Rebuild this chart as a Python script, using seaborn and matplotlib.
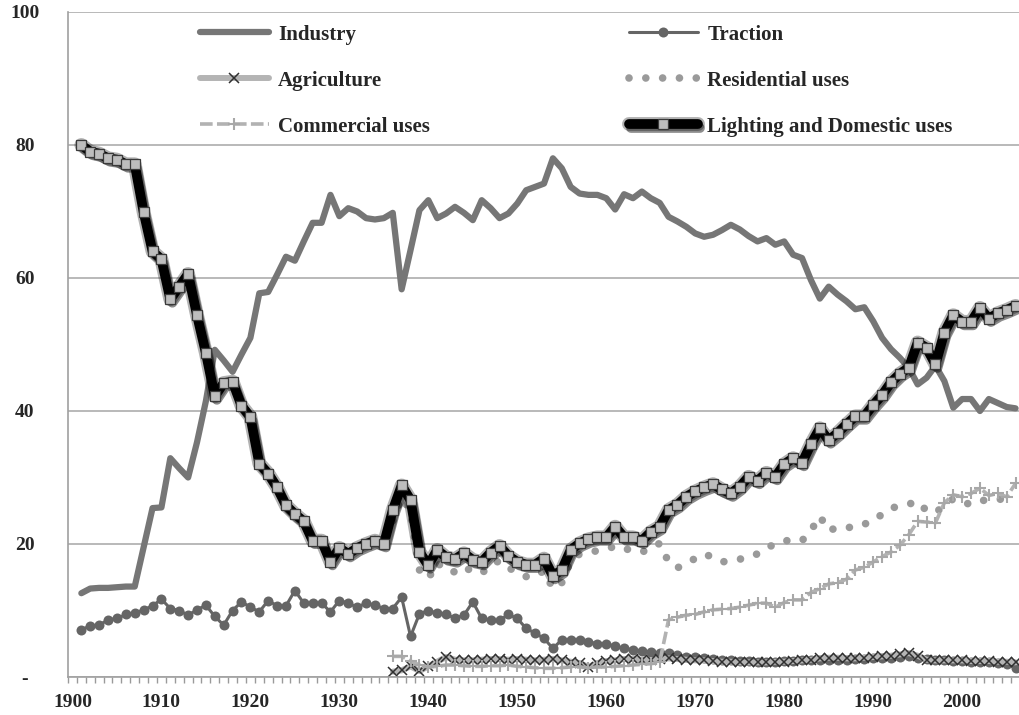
import numpy as np
import pandas as pd
import matplotlib
matplotlib.use("Agg")
import matplotlib.pyplot as plt
import matplotlib.patheffects as pe
from matplotlib.font_manager import FontProperties
from matplotlib.legend_handler import HandlerTuple
import seaborn as sns

# Data, share of electricity use in %
YEARS = list(range(1901, 2007))
YEARS_LATE = list(range(1936, 2007))

INDUSTRY = [
    12.6, 13.3, 13.4, 13.4, 13.5, 13.6, 13.6, 19.5, 25.4, 25.5,
    32.9, 31.4, 30.0, 35.3, 41.5, 49.2, 47.6, 45.9, 48.5, 51.0,
    57.7, 57.9, 60.5, 63.2, 62.6, 65.5, 68.3, 68.3, 72.5, 69.3,
    70.5, 70.0, 69.0, 68.8, 69.0, 69.8, 58.3, 64.2, 70.2, 71.7,
    69.0, 69.7, 70.7, 69.8, 68.7, 71.7, 70.5, 69.0, 69.7, 71.2,
    73.2, 73.7, 74.2, 78.0, 76.5, 73.7, 72.7, 72.5, 72.5, 72.0,
    70.3, 72.6, 72.0, 73.0, 72.0, 71.3, 69.2, 68.5, 67.7, 66.7,
    66.2, 66.5, 67.2, 68.0, 67.3, 66.3, 65.5, 66.0, 65.0, 65.5,
    63.5, 63.0, 59.7, 56.9, 58.7, 57.5, 56.5, 55.3, 55.6, 53.5,
    51.0, 49.3, 48.0, 46.5, 44.0, 45.0, 46.8, 44.5, 40.5, 41.8,
    41.8, 40.0, 41.8, 41.2, 40.6, 40.4,
]
TRACTION = [
    7.1, 7.7, 7.8, 8.6, 8.8, 9.4, 9.6, 10.1, 10.7, 11.7,
    10.3, 10.0, 9.3, 10.1, 10.8, 9.1, 7.8, 10.0, 11.3, 10.5,
    9.8, 11.5, 10.7, 10.7, 13.0, 11.1, 11.1, 11.1, 9.8, 11.5,
    11.1, 10.5, 11.1, 10.8, 10.3, 10.3, 12.0, 6.1, 9.5, 10.0,
    9.6, 9.5, 8.8, 9.3, 11.3, 8.8, 8.5, 8.5, 9.4, 8.8,
    7.3, 6.6, 5.8, 4.3, 5.6, 5.6, 5.6, 5.3, 5.0, 5.0,
    4.6, 4.3, 4.1, 3.9, 3.8, 3.6, 3.6, 3.3, 3.0, 3.0,
    2.8, 2.7, 2.6, 2.5, 2.4, 2.4, 2.3, 2.3, 2.3, 2.4,
    2.4, 2.5, 2.5, 2.6, 2.6, 2.6, 2.6, 2.7, 2.7, 2.8,
    2.8, 2.9, 3.0, 3.1, 2.9, 2.7, 2.6, 2.5, 2.4, 2.4,
    2.3, 2.3, 2.2, 2.1, 2.0, 1.4,
]
LIGHTING = [
    80.0, 79.0, 78.7, 78.0, 77.8, 77.1, 77.1, 69.9, 64.0, 62.8,
    56.8, 58.7, 60.6, 54.4, 48.7, 42.2, 44.2, 44.4, 40.8, 39.1,
    32.1, 30.6, 28.5, 25.8, 24.5, 23.4, 20.5, 20.5, 17.3, 19.4,
    18.5, 19.4, 20.0, 20.5, 20.0, 25.1, 28.8, 26.6, 18.8, 16.8,
    19.1, 18.0, 17.7, 18.6, 17.6, 17.3, 18.7, 19.7, 18.2, 17.3,
    16.9, 16.9, 17.8, 15.2, 16.1, 19.1, 20.1, 20.7, 21.0, 21.0,
    22.6, 21.0, 21.0, 20.5, 21.8, 22.6, 25.1, 25.9, 27.1, 27.9,
    28.5, 29.0, 28.2, 27.6, 28.6, 30.1, 29.5, 30.7, 30.1, 32.0,
    32.9, 32.2, 35.0, 37.4, 35.6, 36.7, 38.0, 39.2, 39.2, 40.9,
    42.4, 44.3, 45.6, 46.5, 50.3, 49.5, 47.0, 51.8, 54.4, 53.4,
    53.4, 55.5, 53.9, 54.7, 55.2, 55.8,
]
# the following series start in 1936
AGRICULTURE = [
    0.8, 1.0, 1.6, 0.9, 1.6, 2.3, 3.0, 2.6, 2.5, 2.5,
    2.6, 2.7, 2.7, 2.6, 2.7, 2.6, 2.5, 2.6, 2.7, 2.5,
    2.3, 2.1, 1.5, 2.1, 2.4, 2.5, 2.7, 2.7, 2.6, 2.5,
    2.7, 2.8, 2.7, 2.6, 2.5, 2.5, 2.4, 2.3, 2.3, 2.2,
    2.2, 2.2, 2.2, 2.3, 2.3, 2.4, 2.5, 2.6, 2.8, 2.9,
    2.9, 2.8, 2.8, 2.9, 3.0, 3.1, 3.2, 3.4, 3.6, 3.2,
    2.6, 2.5, 2.5, 2.5, 2.5, 2.4, 2.4, 2.4, 2.3, 2.3,
    2.2,
]
RESIDENTIAL = [
    23.5, 27.0, 25.0, 16.1, 14.8, 17.2, 16.0, 15.8, 16.6, 15.8,
    15.6, 16.8, 17.5, 16.4, 15.8, 15.1, 15.1, 16.0, 13.3, 14.2,
    17.4, 18.5, 18.7, 19.0, 19.2, 19.7, 19.2, 19.2, 18.8, 19.3,
    20.1, 17.3, 16.4, 17.2, 17.8, 18.5, 18.0, 17.3, 17.5, 17.7,
    18.2, 18.5, 19.4, 20.0, 20.5, 20.5, 20.5, 22.0, 24.2, 22.0,
    22.5, 22.5, 22.5, 23.0, 23.4, 24.5, 25.4, 25.7, 26.0, 26.4,
    25.0, 24.7, 25.8, 26.8, 26.2, 26.0, 26.6, 26.5, 26.7, 26.8,
    26.6,
]
COMMERCIAL = [
    3.1, 3.1, 2.4, 1.8, 1.5, 1.6, 1.8, 1.8, 1.7, 1.6,
    1.6, 1.7, 1.7, 1.8, 1.6, 1.5, 1.4, 1.3, 1.3, 1.4,
    1.5, 1.5, 1.4, 1.5, 1.5, 1.6, 1.7, 1.8, 1.9, 2.0,
    2.2, 8.6, 9.0, 9.3, 9.4, 9.8, 10.1, 10.2, 10.3, 10.5,
    10.8, 11.1, 11.1, 10.5, 11.2, 11.6, 11.6, 12.7, 13.3, 14.0,
    14.2, 14.7, 16.1, 16.5, 17.3, 18.1, 18.8, 19.8, 21.4, 23.4,
    23.3, 23.2, 26.2, 27.4, 27.1, 27.6, 28.4, 27.3, 27.6, 27.1,
    29.1,
]

Y_TICKS = [0, 20, 40, 60, 80, 100]
Y_LABELS = ['-', '20', '40', '60', '80', '100']
X_TICKS = list(range(1900, 2001, 10))

sns.set_style("white")
plt.rcParams['font.family'] = ['Liberation Serif', 'DejaVu Serif']
plt.rcParams['font.weight'] = 'bold'

fig = plt.figure(figsize=(10.2, 7.15), dpi=100)
ax = fig.add_axes([68 / 1020, 38 / 715, 952 / 1020, 665 / 715])

sns.lineplot(x=YEARS, y=INDUSTRY, ax=ax, color='#767676', linewidth=4.5,
             label='Industry', solid_capstyle='round', solid_joinstyle='round')
sns.lineplot(x=YEARS, y=TRACTION, ax=ax, color='#656565', linewidth=2.2,
             marker='o', markersize=7.2, markeredgewidth=0, label='Traction')
sns.lineplot(x=YEARS_LATE, y=AGRICULTURE, ax=ax, color='#b4b4b4', linewidth=4.3,
             marker='x', markersize=7.5, markeredgecolor='#303030',
             markeredgewidth=1.1, label='Agriculture')
sns.lineplot(x=YEARS_LATE, y=RESIDENTIAL, ax=ax, color='#9a9a9a', linewidth=5.5,
             linestyle=(0, (0.001, 2.2)), dash_capstyle='round',
             label='Residential uses')
sns.lineplot(x=YEARS_LATE, y=COMMERCIAL, ax=ax, color='#b2b2b2', linewidth=2.6,
             linestyle=(0, (3.5, 1.2)), marker='+', markersize=9,
             markeredgewidth=1.5, markeredgecolor='#a8a8a8',
             label='Commercial uses')

# lighting: thick black line with a soft shadow, markers drawn on top
glow = [pe.Stroke(linewidth=10, foreground='black', alpha=0.3),
        pe.SimpleLineShadow(offset=(1.5, -2.5), alpha=0.45),
        pe.Normal()]
sns.lineplot(x=YEARS, y=LIGHTING, ax=ax, color='black', linewidth=7,
             solid_joinstyle='round', solid_capstyle='round',
             label='_light_line', path_effects=glow)
sns.lineplot(x=YEARS, y=LIGHTING, ax=ax, linestyle='', marker='s',
             markersize=7.8, markerfacecolor='#bdbdbd',
             markeredgecolor='#3a3a3a', markeredgewidth=0.9,
             label='_light_marks')
light_line = ax.lines[-2]
light_marks = ax.lines[-1]

ax.set_xlim(1899.5, 2006.5)
ax.set_ylim(0, 100)
ax.set_xlabel('')
ax.set_ylabel('')

ax.set_yticks(Y_TICKS)
ax.set_yticklabels(Y_LABELS, fontsize=14, fontweight='bold', ha='center')
ax.tick_params(axis='y', length=0, pad=31)
ax.yaxis.grid(True, color='#a6a6a6', linewidth=1.1)
ax.set_axisbelow(True)

ax.set_xticks(X_TICKS)
ax.set_xticklabels([str(y) for y in X_TICKS], fontsize=14, fontweight='bold')
ax.set_xticks(np.arange(1899.5, 2007, 1.0), minor=True)
ax.tick_params(axis='x', which='major', length=0, pad=12)
ax.tick_params(axis='x', which='minor', length=4.5, width=1.0,
               color='#9a9a9a', direction='out', bottom=True)

for side in ['top', 'right']:
    ax.spines[side].set_visible(False)
for side in ['left', 'bottom']:
    ax.spines[side].set_color('#a0a0a0')
    ax.spines[side].set_linewidth(1.2)

# legend: 2 columns, row order as in the reference
handles, labels = ax.get_legend_handles_labels()
lookup = dict(zip(labels, handles))
lookup['Lighting and Domestic uses'] = (light_line, light_marks)
order = ['Industry', 'Agriculture', 'Commercial uses',
         'Traction', 'Residential uses', 'Lighting and Domestic uses']
ax.legend([lookup[k] for k in order], order, ncol=2, loc='upper left',
          bbox_to_anchor=(0.1387, 0.981), frameon=False,
          handlelength=3.3, handletextpad=0.45, columnspacing=9.55,
          labelspacing=1.25, borderpad=0, borderaxespad=0,
          handler_map={tuple: HandlerTuple(ndivide=1)},
          prop=FontProperties(family='Liberation Serif', weight='bold', size=15))

fig.savefig('out.png', dpi=100)
